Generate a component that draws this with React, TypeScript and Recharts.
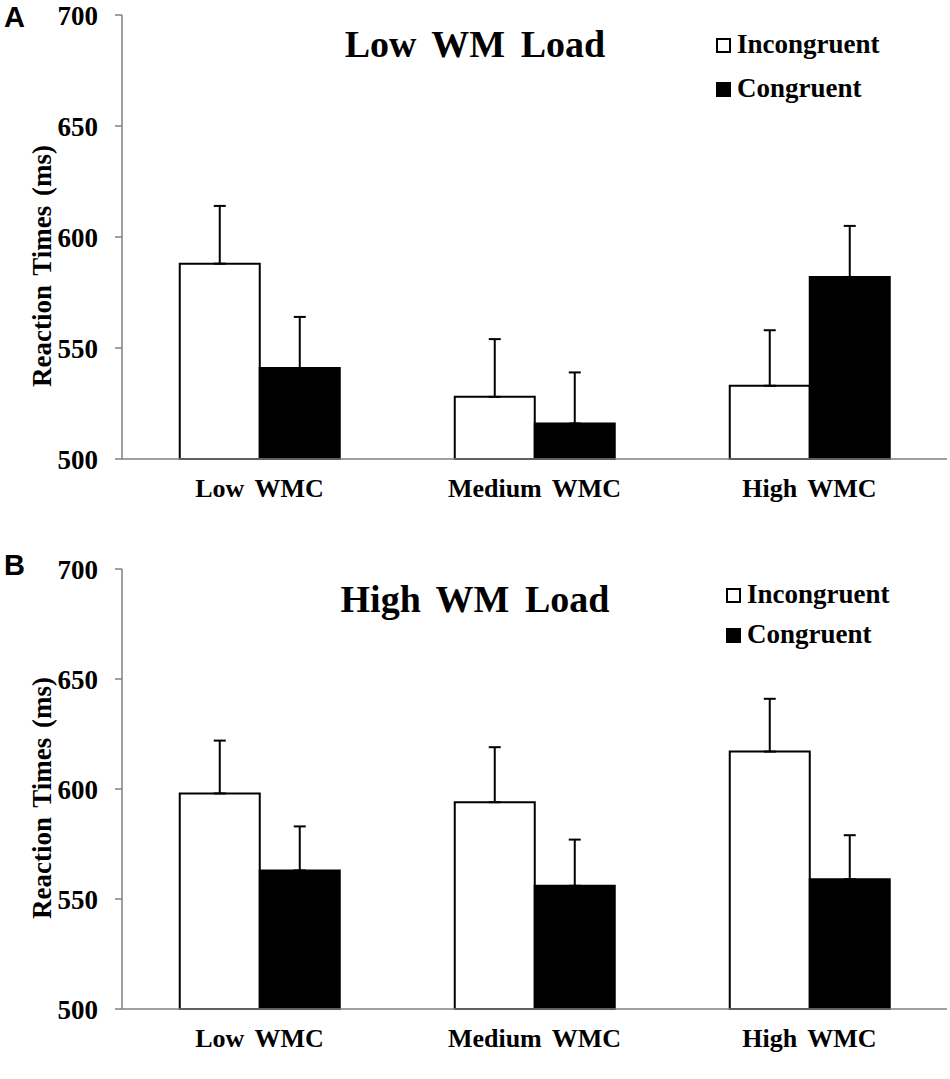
import React from 'react';
import { BarChart, Bar, XAxis, YAxis, ErrorBar, Legend } from 'recharts';

const categories = ['Low WMC', 'Medium WMC', 'High WMC'];
const yTicks = [500, 550, 600, 650, 700];
const seriesOrder = ['incongruent', 'congruent'];

// Panel A: low working-memory load
const lowLoadIncongruent = [588, 528, 533];
const lowLoadIncongruentErr = [26, 26, 25];
const lowLoadCongruent = [541, 516, 582];
const lowLoadCongruentErr = [23, 23, 23];

// Panel B: high working-memory load
const highLoadIncongruent = [598, 594, 617];
const highLoadIncongruentErr = [24, 25, 24];
const highLoadCongruent = [563, 556, 559];
const highLoadCongruentErr = [20, 21, 20];

const SERIF = '"Liberation Serif", "Times New Roman", serif';
const SANS = '"Liberation Sans", Arial, sans-serif';
const AXIS_GREY = '#808080';

const buildRows = (inc: number[], incErr: number[], con: number[], conErr: number[]) =>
  categories.map((name, i) => ({
    name,
    incongruent: inc[i],
    incongruentErr: [0, incErr[i]],
    congruent: con[i],
    congruentErr: [0, conErr[i]],
  }));

const lowLoadData = buildRows(lowLoadIncongruent, lowLoadIncongruentErr, lowLoadCongruent, lowLoadCongruentErr);
const highLoadData = buildRows(highLoadIncongruent, highLoadIncongruentErr, highLoadCongruent, highLoadCongruentErr);

const YTitle = ({ labelX, labelY }: any) => (
  <text
    x={labelX}
    y={labelY}
    transform={`rotate(-90, ${labelX}, ${labelY})`}
    textAnchor="middle"
    dominantBaseline="central"
    fontFamily={SERIF}
    fontWeight="bold"
    fontSize={27}
    wordSpacing={3}
    fill="#000"
  >
    Reaction Times (ms)
  </text>
);

const LegendBox = ({ payload, rowHeight }: any) => {
  const items = [...(payload || [])].sort(
    (a: any, b: any) => seriesOrder.indexOf(a.dataKey) - seriesOrder.indexOf(b.dataKey)
  );
  return (
    <div style={{ fontFamily: SERIF, fontWeight: 'bold', fontSize: 27, color: '#000' }}>
      {items.map((entry: any) => (
        <div key={entry.value} style={{ height: rowHeight, lineHeight: rowHeight + 'px', whiteSpace: 'nowrap' }}>
          <span
            style={{
              display: 'inline-block',
              width: 11,
              height: 11,
              border: '2px solid #000',
              background: entry.dataKey === 'incongruent' ? '#fff' : '#000',
              marginRight: 6,
            }}
          />
          {entry.value}
        </div>
      ))}
    </div>
  );
};

interface PanelProps {
  letter: string;
  letterTop: number;
  title: string;
  titleTop: number;
  data: any[];
  height: number;
  marginTop: number;
  xAxisHeight: number;
  legendLeft: number;
  legendTop: number;
  legendRow: number;
  yLabelY: number;
}

const Panel: React.FC<PanelProps> = (p) => (
  <div style={{ position: 'relative', width: 950, height: p.height }}>
    <BarChart
      width={950}
      height={p.height}
      data={p.data}
      margin={{ top: p.marginTop, right: 3, left: 0, bottom: 0 }}
      barCategoryGap="21%"
      barGap={0}
    >
      <XAxis
        dataKey="name"
        height={p.xAxisHeight}
        stroke={AXIS_GREY}
        strokeWidth={1.5}
        tickLine={false}
        tickSize={0}
        tickMargin={20}
        tick={{ fontFamily: SERIF, fontWeight: 'bold', fontSize: 26, fill: '#000', wordSpacing: 4 }}
      />
      <YAxis
        width={122}
        domain={[500, 700]}
        ticks={yTicks}
        stroke={AXIS_GREY}
        strokeWidth={1.5}
        tickSize={7}
        tickMargin={17}
        tick={{ fontFamily: SERIF, fontWeight: 'bold', fontSize: 27, fill: '#000' }}
        label={<YTitle labelX={42} labelY={p.yLabelY} />}
      />
      <Legend
        layout="vertical"
        align="center"
        verticalAlign="middle"
        wrapperStyle={{ position: 'absolute', left: p.legendLeft, top: p.legendTop, width: 'auto', height: 'auto' }}
        content={(props: any) => <LegendBox {...props} rowHeight={p.legendRow} />}
      />
      <Bar dataKey="incongruent" name="Incongruent" fill="#fff" stroke="#000" strokeWidth={2} isAnimationActive={false}>
        <ErrorBar dataKey="incongruentErr" width={6} stroke="#000" strokeWidth={2} direction="y" isAnimationActive={false} />
      </Bar>
      <Bar dataKey="congruent" name="Congruent" fill="#000" stroke="#000" strokeWidth={2} isAnimationActive={false}>
        <ErrorBar dataKey="congruentErr" width={6} stroke="#000" strokeWidth={2} direction="y" isAnimationActive={false} />
      </Bar>
    </BarChart>
    <div
      style={{
        position: 'absolute',
        left: 0,
        top: p.letterTop,
        paddingLeft: 4,
        fontFamily: SANS,
        fontWeight: 'bold',
        fontSize: 29,
        lineHeight: '29px',
      }}
    >
      {p.letter}
    </div>
    <div
      style={{
        position: 'absolute',
        left: 0,
        width: 950,
        top: p.titleTop,
        textAlign: 'center',
        fontFamily: SERIF,
        fontWeight: 'bold',
        fontSize: 38,
        lineHeight: '38px',
        wordSpacing: 6,
      }}
    >
      {p.title}
    </div>
  </div>
);

export default function App() {
  return (
    <div style={{ width: 950, height: 1079, background: '#fff' }}>
      <style>{'body { margin: 0; }'}</style>
      <Panel
        letter="A"
        letterTop={3}
        title="Low WM Load"
        titleTop={25}
        data={lowLoadData}
        height={540}
        marginTop={15}
        xAxisHeight={81}
        legendLeft={716}
        legendTop={22}
        legendRow={44}
        yLabelY={266}
      />
      <Panel
        letter="B"
        letterTop={11}
        title="High WM Load"
        titleTop={40}
        data={highLoadData}
        height={539}
        marginTop={29}
        xAxisHeight={70}
        legendLeft={726}
        legendTop={34}
        legendRow={40}
        yLabelY={258}
      />
    </div>
  );
}
